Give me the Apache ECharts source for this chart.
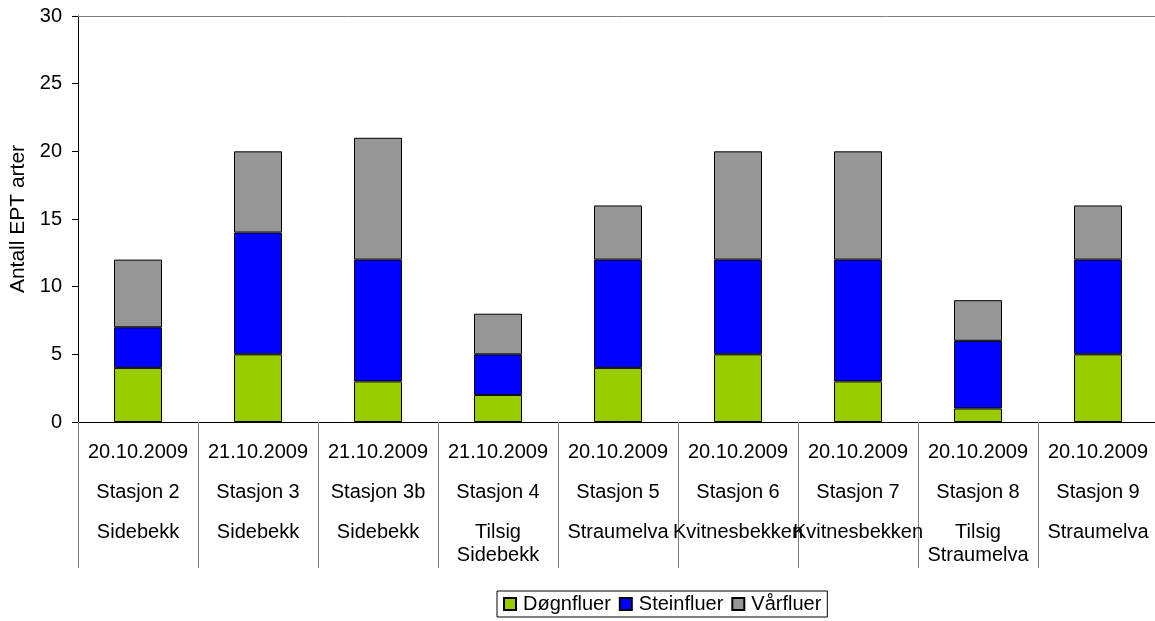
<!DOCTYPE html>
<html>
<head>
<meta charset="utf-8">
<script src="https://cdn.jsdelivr.net/npm/echarts@6/dist/echarts.min.js"></script>
<style>
html,body{margin:0;padding:0;background:#fff;}
#chart{width:1155px;height:621px;}
</style>
</head>
<body>
<div id="chart"></div>
<script>
var dates = ["20.10.2009", "21.10.2009", "21.10.2009", "21.10.2009", "20.10.2009", "20.10.2009", "20.10.2009", "20.10.2009", "20.10.2009"];
var stations = ["Stasjon 2", "Stasjon 3", "Stasjon 3b", "Stasjon 4", "Stasjon 5", "Stasjon 6", "Stasjon 7", "Stasjon 8", "Stasjon 9"];
var places = ["Sidebekk", "Sidebekk", "Sidebekk", "Tilsig\nSidebekk", "Straumelva", "Kvitnesbekken", "Kvitnesbekken", "Tilsig\nStraumelva", "Straumelva"];
var dognfluer = [4, 5, 3, 2, 4, 5, 3, 1, 5];
var steinfluer = [3, 9, 9, 3, 8, 7, 9, 5, 7];
var varfluer = [5, 6, 9, 3, 4, 8, 8, 3, 4];

var font = 'Liberation Sans, Arial, sans-serif';
var colors = ['#99cc00', '#0000ff', '#969696'];

// one category label = date / station / place, with a gap line between
var categories = dates.map(function (d, i) {
    var place = places[i].split('\n').map(function (p) { return '{d|' + p + '}'; }).join('\n');
    return '{d|' + d + '}\n{s| }\n{d|' + stations[i] + '}\n{s| }\n' + place;
});

var dom = document.getElementById("chart");
var myChart = echarts.init(dom);

function bar(name, data) {
    return {
        name: name,
        type: 'bar',
        stack: 'ept',
        barWidth: 48,
        data: data,
        itemStyle: {borderColor: '#000', borderWidth: 1}
    };
}

var option = {
    animation: false,
    color: colors,
    textStyle: {fontFamily: font, color: '#000'},
    grid: {left: 78, top: 16, width: 1080, height: 406, outerBoundsMode: 'none', containLabel: false},
    legend: {
        left: 497,
        top: 591,
        padding: [3, 6, 3, 6],
        itemGap: 8,
        itemWidth: 12,
        itemHeight: 12,
        icon: 'rect',
        borderColor: '#000',
        borderWidth: 1,
        borderRadius: 0,
        textStyle: {fontSize: 20, fontFamily: font, color: '#000', padding: [0, 0, 0, 2]},
        data: ['Døgnfluer', 'Steinfluer', 'Vårfluer']
    },
    xAxis: [{
        type: 'category',
        data: categories,
        axisLine: {show: true, lineStyle: {color: '#000'}},
        axisTick: {show: true, interval: 0, alignWithLabel: false, length: 146, lineStyle: {color: '#808080'}},
        axisLabel: {
            interval: 0,
            hideOverlap: false,
            margin: 19,
            fontFamily: font,
            color: '#000',
            align: 'center',
            rich: {
                d: {fontSize: 20, lineHeight: 23, fontFamily: font, color: '#000'},
                s: {fontSize: 10, lineHeight: 17}
            }
        }
    }, {
        type: 'category',
        position: 'top',
        data: categories,
        axisLine: {lineStyle: {color: '#808080'}},
        axisTick: {show: false},
        axisLabel: {show: false}
    }],
    yAxis: {
        type: 'value',
        min: 0,
        max: 30,
        interval: 5,
        name: 'Antall EPT arter',
        nameLocation: 'middle',
        nameGap: 46,
        nameRotate: 90,
        nameTextStyle: {fontSize: 21, fontFamily: font, color: '#000'},
        axisLine: {show: true, lineStyle: {color: '#000'}},
        axisTick: {show: true, length: 6, lineStyle: {color: '#000'}},
        splitLine: {show: false},
        axisLabel: {margin: 16, fontSize: 20, fontFamily: font, color: '#000'}
    },
    series: [
        bar('Døgnfluer', dognfluer),
        bar('Steinfluer', steinfluer),
        bar('Vårfluer', varfluer)
    ]
};
myChart.setOption(option, true);
</script>
</body>
</html>
